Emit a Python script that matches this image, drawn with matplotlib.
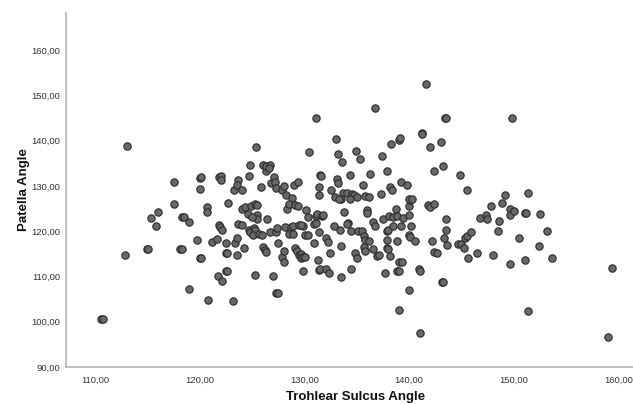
import matplotlib
matplotlib.use("Agg")
import matplotlib.pyplot as plt

# Trochlear sulcus angle (x) vs patella angle (y)
sulcus = [
    110.5, 110.7, 112.8, 113.0, 114.9, 115.0, 115.3, 115.8, 116.0, 117.5,
    117.5, 118.3, 118.5, 118.1, 118.3, 119.0, 119.0, 119.7, 120.0, 120.1,
    120.0, 120.1, 120.0, 120.7, 120.7, 120.8, 121.2, 121.6, 121.8, 121.9,
    122.1, 121.7, 122.1, 121.8, 122.0, 122.0, 122.5, 122.5, 122.6, 122.5,
    122.6, 122.7, 123.2, 123.4, 123.5, 123.5, 123.6, 124.0, 123.3, 123.6,
    123.5, 124.0, 124.2, 124.0, 124.3, 124.6, 124.7, 124.8, 124.9, 124.7,
    124.8, 125.4, 125.2, 125.3, 125.1, 125.6, 125.3, 125.3, 125.5, 125.5,
    125.5, 125.8, 126.0, 126.3, 126.3, 126.7, 126.8, 127.1, 127.2, 127.3,
    127.8, 128.0, 128.2, 128.8, 129.0, 129.4, 130.4, 131.1, 126.0, 126.2,
    126.3, 125.9, 126.4, 126.7, 127.3, 127.4, 127.0, 127.3, 127.5, 127.5,
    127.8, 128.0, 128.0, 128.1, 128.3, 128.5, 128.5, 128.7, 128.9, 128.9,
    129.1, 129.4, 129.1, 129.3, 129.5, 129.7, 129.7, 129.9, 129.5, 129.9,
    129.7, 129.9, 130.0, 130.3, 130.0, 130.1, 130.3, 130.9, 130.9, 131.1,
    131.1, 131.2, 131.3, 131.4, 131.4, 131.5, 131.4, 131.4, 131.7, 131.8,
    132.1, 132.2, 132.4, 131.5, 132.1, 132.3, 132.8, 133.4, 133.5, 133.5,
    133.8, 134.2, 134.1, 134.4, 134.4, 134.8, 135.0, 135.1, 135.5, 135.7,
    135.8, 135.7, 136.0, 136.0, 135.8, 136.2, 136.5, 136.7, 136.5, 136.9,
    137.1, 137.5, 137.7, 137.9, 138.0, 138.1, 137.9, 137.9, 138.0, 138.2,
    138.5, 138.5, 138.7, 138.8, 138.8, 138.8, 139.0, 139.0, 139.3, 139.0,
    139.2, 139.4, 140.0, 140.0, 140.1, 140.0, 140.1, 140.2, 140.0, 140.6,
    140.9, 141.0, 141.0, 141.8, 142.0, 142.4, 142.2, 142.4, 142.7, 143.1,
    143.2, 143.3, 143.5, 143.5, 143.6, 144.7, 145.0, 145.2, 145.3, 145.5,
    145.6, 145.9, 146.5, 146.8, 147.3, 147.4, 147.8, 148.0, 148.5, 148.6,
    148.9, 149.6, 149.6, 150.0, 149.6, 150.5, 151.1, 151.2, 151.1, 151.4,
    152.4, 152.5, 153.2, 153.7, 159.0, 159.4, 136.7, 141.6, 143.4, 143.5,
    149.8, 133.0, 133.2, 133.6, 134.9, 135.3, 134.3, 131.6, 132.5, 133.1,
    133.2, 132.9, 133.7, 134.1, 134.5, 134.7, 135.0, 134.3, 133.5, 135.8,
    136.2, 135.6, 136.3, 137.3, 137.4, 137.9, 138.2, 138.4, 138.3, 139.0,
    139.1, 139.2, 139.8, 140.0, 140.3, 141.2, 141.2, 142.0, 142.4, 143.0,
    143.2, 144.9, 145.5, 149.2, 151.4, 133.3, 126.6, 125.0,
]
patella = [
    100.7, 100.7, 114.7, 138.8, 116.0, 116.1, 122.9, 121.1, 124.2, 130.8,
    125.9, 123.1, 123.1, 116.0, 116.0, 122.0, 107.2, 118.0, 114.0, 114.1,
    131.8, 131.9, 129.4, 125.3, 124.2, 104.8, 117.7, 118.3, 121.4, 121.0,
    120.2, 110.1, 108.9, 132.0, 132.2, 131.3, 117.3, 115.1, 115.2, 111.1,
    111.2, 126.3, 104.5, 117.4, 118.5, 114.8, 121.6, 121.3, 129.1, 131.4,
    130.3, 129.1, 116.3, 125.0, 125.4, 123.8, 120.2, 119.8, 125.5, 132.2,
    134.7, 138.5, 120.8, 120.2, 119.2, 119.4, 110.4, 126.0, 125.8, 123.6,
    122.7, 129.7, 134.7, 133.3, 134.4, 134.7, 130.7, 132.0, 130.9, 129.5,
    129.1, 130.0, 128.1, 127.4, 130.1, 130.9, 137.6, 145.0, 116.4, 115.8,
    115.5, 119.1, 122.7, 119.8, 119.9, 120.8, 110.1, 106.4, 106.4, 117.3,
    114.2, 115.6, 113.1, 120.9, 124.8, 125.9, 119.3, 121.0, 121.1, 119.3,
    125.7, 125.5, 116.2, 115.7, 114.8, 115.0, 114.1, 114.3, 121.3, 121.1,
    121.3, 111.1, 119.1, 119.2, 114.2, 124.7, 123.2, 117.5, 121.6, 121.7,
    123.4, 123.9, 113.6, 119.8, 111.5, 132.4, 129.8, 128.0, 123.4, 123.6,
    118.6, 117.6, 115.2, 111.6, 111.6, 110.7, 121.1, 120.2, 116.7, 109.9,
    124.3, 121.9, 121.6, 120.1, 111.6, 115.1, 114.1, 120.1, 120.1, 119.0,
    118.0, 116.6, 124.7, 124.1, 115.6, 117.9, 122.1, 121.1, 116.0, 114.6,
    114.7, 122.8, 110.7, 120.1, 120.2, 123.3, 118.0, 116.2, 116.0, 114.5,
    123.2, 121.2, 125.0, 123.3, 117.9, 111.3, 111.2, 113.1, 113.1, 102.7,
    121.1, 122.9, 123.6, 125.5, 126.9, 119.1, 118.8, 121.1, 107.1, 117.9,
    111.6, 111.2, 97.6, 125.8, 125.3, 126.1, 117.9, 115.3, 115.1, 108.8,
    108.8, 118.5, 120.2, 122.7, 116.9, 117.2, 117.2, 116.2, 118.6, 118.9,
    114.0, 119.9, 115.1, 123.0, 123.5, 122.6, 125.5, 114.7, 120.1, 122.2,
    126.3, 124.9, 123.5, 124.4, 112.7, 118.6, 124.1, 124.1, 113.6, 102.4,
    116.8, 123.9, 120.0, 114.1, 96.7, 111.9, 147.2, 152.5, 145.0, 145.0,
    145.0, 140.3, 137.0, 135.3, 137.7, 136.0, 132.5, 132.2, 129.2, 131.6,
    130.7, 127.6, 128.5, 128.5, 128.3, 128.0, 127.6, 127.2, 127.2, 127.7,
    127.6, 130.3, 132.6, 128.2, 136.6, 133.3, 129.7, 129.2, 139.2, 140.2,
    140.6, 130.8, 130.3, 127.2, 127.2, 141.6, 141.4, 138.6, 133.3, 139.8,
    134.4, 132.5, 129.2, 128.1, 128.5, 127.2, 133.9, 123.2,
]

x_ticks = [110, 120, 130, 140, 150, 160]
y_ticks = [90, 100, 110, 120, 130, 140, 150, 160]

plt.rcParams['font.family'] = ['Liberation Sans', 'DejaVu Sans']

fig = plt.figure(figsize=(6.33, 4.04), dpi=100)
ax = fig.add_axes([0.1043, 0.0916, 0.8957, 0.8762])

ax.scatter(sulcus, patella, s=28, facecolor='#686868', edgecolor='#2a2a2a',
           linewidth=0.8, zorder=3)

ax.set_xlim(107.2, 161.4)
ax.set_ylim(90, 168.2)

# SPSS style: comma decimals, no tick marks, light grey axis lines
ax.set_xticks(x_ticks)
ax.set_xticklabels([f"{v},00" for v in x_ticks])
ax.set_yticks(y_ticks)
ax.set_yticklabels([f"{v},00" for v in y_ticks])
ax.tick_params(axis='both', length=0, labelsize=6.8, colors='#333333')
ax.tick_params(axis='x', pad=6)
ax.tick_params(axis='y', pad=4)

for side in ['top', 'right']:
    ax.spines[side].set_visible(False)
for side in ['left', 'bottom']:
    ax.spines[side].set_color('#b4b4b4')
    ax.spines[side].set_linewidth(1.2)

ax.set_xlabel('Trohlear Sulcus Angle', fontsize=9.5, fontweight='bold', color='#111111')
ax.set_ylabel('Patella Angle', fontsize=9.5, fontweight='bold', color='#111111')
ax.xaxis.set_label_coords(0.511, -0.068)
ax.yaxis.set_label_coords(-0.063, 0.5)

fig.savefig('out.png', dpi=100)
